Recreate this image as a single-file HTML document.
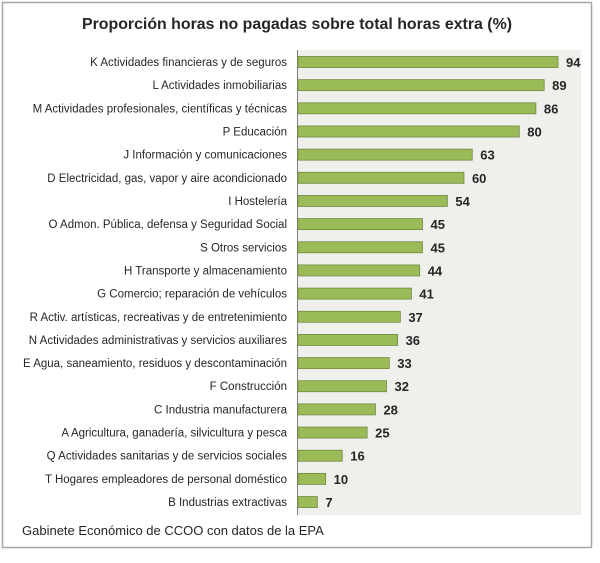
<!DOCTYPE html>
<html><head><meta charset="utf-8"><style>
body{margin:0;background:#fff;width:600px;height:558px;overflow:hidden;font-family:"Liberation Sans",sans-serif;}
</style></head><body>
<svg width="600" height="558" xmlns="http://www.w3.org/2000/svg" font-family="Liberation Sans, sans-serif">
<rect x="2.5" y="2.5" width="589" height="545" fill="#fff" stroke="#a6a6a6" stroke-width="1.5"/>
<text x="297" y="29" text-anchor="middle" font-size="16" font-weight="bold" fill="#262626" textLength="430" lengthAdjust="spacingAndGlyphs">Proporción horas no pagadas sobre total horas extra (%)</text>
<rect x="297" y="50" width="284" height="465" fill="#eff0ec"/>
<line x1="297.5" y1="50" x2="297.5" y2="515" stroke="#7f7f7f" stroke-width="1"/>
<g id="bars" font-size="11.5" fill="#262626"></g>
<text x="22" y="535" font-size="13" fill="#262626">Gabinete Económico de CCOO con datos de la EPA</text>
</svg>
<script>
var d=[["K Actividades financieras y de seguros",94],["L Actividades inmobiliarias",89],["M Actividades profesionales, científicas y técnicas",86],["P Educación",80],["J Información y comunicaciones",63],["D Electricidad, gas, vapor y aire acondicionado",60],["I Hostelería",54],["O Admon. Pública, defensa y Seguridad Social",45],["S Otros servicios",45],["H Transporte y almacenamiento",44],["G Comercio; reparación de vehículos",41],["R Activ. artísticas, recreativas y de entretenimiento",37],["N Actividades administrativas y servicios auxiliares",36],["E Agua, saneamiento, residuos y descontaminación",33],["F Construcción",32],["C Industria manufacturera",28],["A Agricultura, ganadería, silvicultura y pesca",25],["Q Actividades sanitarias y de servicios sociales",16],["T Hogares empleadores de personal doméstico",10],["B Industrias extractivas",7]];
var g=document.getElementById('bars'),s='';
d.forEach(function(r,i){var y=62+i*23.16,w=r[1]*2.766;
s+='<text x="287" y="'+(y+4)+'" text-anchor="end">'+r[0]+'</text>';
s+='<rect x="298" y="'+(y-5.5)+'" width="'+w+'" height="11" fill="#9bbb59" stroke="#71893f" stroke-width="0.8"/>';
s+='<text x="'+(298+w+8)+'" y="'+(y+5)+'" font-size="13" font-weight="bold">'+r[1]+'</text>';});
g.innerHTML=s;
</script>
</body></html>
